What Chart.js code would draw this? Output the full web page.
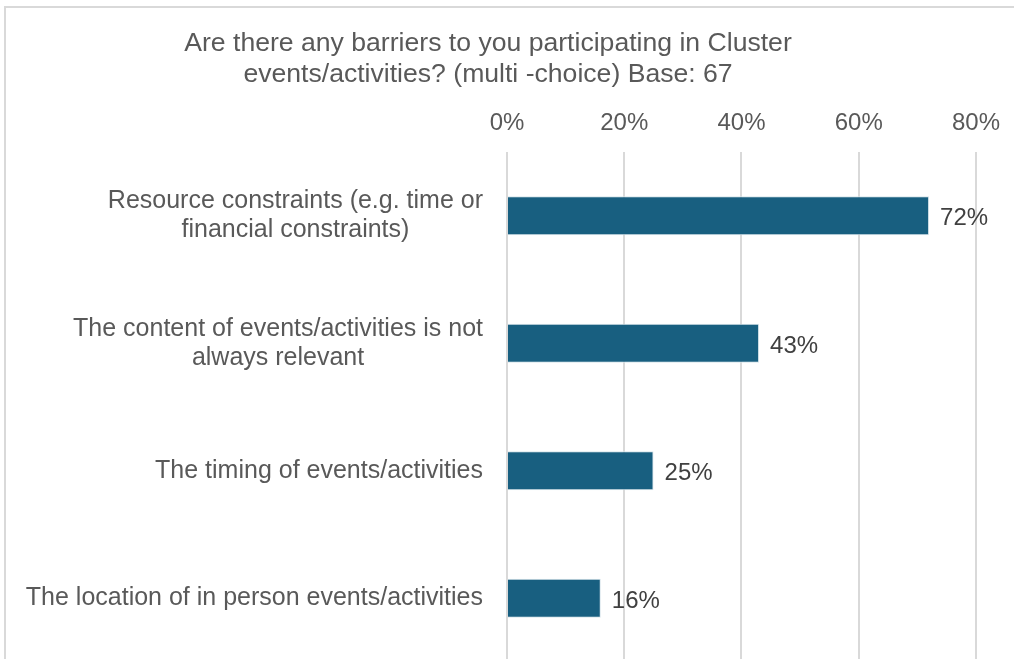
<!DOCTYPE html>
<html>
<head>
<meta charset="utf-8">
<script src="https://cdn.jsdelivr.net/npm/chart.js@4"></script>
<style>
  body { margin: 0; background: #fff; overflow: hidden; }
  #frame { position: absolute; left: 4px; top: 6px; width: 1040px; height: 700px; border: 2px solid #d9d9d9; pointer-events: none; }
  #chart { position: absolute; left: 0; top: 0; }
</style>
</head>
<body>
<canvas id="chart" width="1014" height="662"></canvas>
<div id="frame"></div>
<script>
const categories = [
    ['Resource constraints (e.g. time or', 'financial constraints)'],
    ['The content of events/activities is not', 'always relevant'],
    ['The timing of events/activities'],
    ['The location of in person events/activities']
];
const shares = [72, 43, 25, 16];
const tickValues = [0, 20, 40, 60, 80];

const FONT = '"Liberation Sans", Arial, sans-serif';
const GREY = '#595959';

// category labels: block right-aligned to the axis, lines centred inside the block
const categoryLabels = {
    id: 'categoryLabels',
    afterDraw(chart) {
        const ctx = chart.ctx;
        const y = chart.scales.y;
        ctx.save();
        ctx.font = '25px ' + FONT;
        ctx.fillStyle = GREY;
        ctx.textAlign = 'center';
        ctx.textBaseline = 'middle';
        const lineH = 29;
        categories.forEach((lines, i) => {
            const w = Math.max(...lines.map(l => ctx.measureText(l).width));
            const cx = 483 - w / 2;
            const cy = y.getPixelForValue(i);
            const start = cy - (lines.length - 1) * lineH / 2;
            lines.forEach((l, j) => ctx.fillText(l, cx, start + j * lineH));
        });
        ctx.restore();
    }
};

// value labels at the end of each bar
const valueLabels = {
    id: 'valueLabels',
    afterDatasetsDraw(chart) {
        const ctx = chart.ctx;
        ctx.save();
        ctx.font = '24px ' + FONT;
        ctx.fillStyle = '#404040';
        ctx.textAlign = 'left';
        ctx.textBaseline = 'middle';
        chart.getDatasetMeta(0).data.forEach((bar, i) => {
            ctx.fillText(shares[i] + '%', bar.x + 11, bar.y + 3);
        });
        ctx.restore();
    }
};

new Chart(document.getElementById('chart'), {
    type: 'bar',
    data: {
        labels: categories.map(c => c.join(' ')),
        datasets: [{
            data: shares,
            backgroundColor: '#185f80',
            borderColor: '#d7e4ea',
            borderWidth: 1,
            categoryPercentage: 1,
            barPercentage: 0.305
        }]
    },
    options: {
        indexAxis: 'y',
        responsive: false,
        animation: false,
        layout: { padding: { left: 0, right: 38, top: 0, bottom: 0 } },
        plugins: {
            legend: { display: false },
            tooltip: { enabled: false },
            title: {
                display: true,
                text: ['Are there any barriers to you participating in Cluster',
                       'events/activities? (multi -choice) Base: 67'],
                color: GREY,
                font: { family: FONT, size: 26.6, weight: 'normal', lineHeight: 1.17 },
                padding: { top: 28, bottom: 5 }
            }
        },
        scales: {
            x: {
                position: 'top',
                min: 0,
                max: 80,
                afterBuildTicks(scale) {
                    scale.ticks = tickValues.map(v => ({ value: v }));
                },
                ticks: {
                    color: GREY,
                    font: { family: FONT, size: 24 },
                    padding: 14,
                    callback: v => v + '%'
                },
                grid: { color: '#d9d9d9', lineWidth: 2, drawTicks: false },
                border: { display: false }
            },
            y: {
                ticks: { display: false },
                grid: { display: false },
                border: { display: false },
                afterFit(scale) { scale.width = 507; }
            }
        }
    },
    plugins: [categoryLabels, valueLabels]
});
</script>
</body>
</html>
